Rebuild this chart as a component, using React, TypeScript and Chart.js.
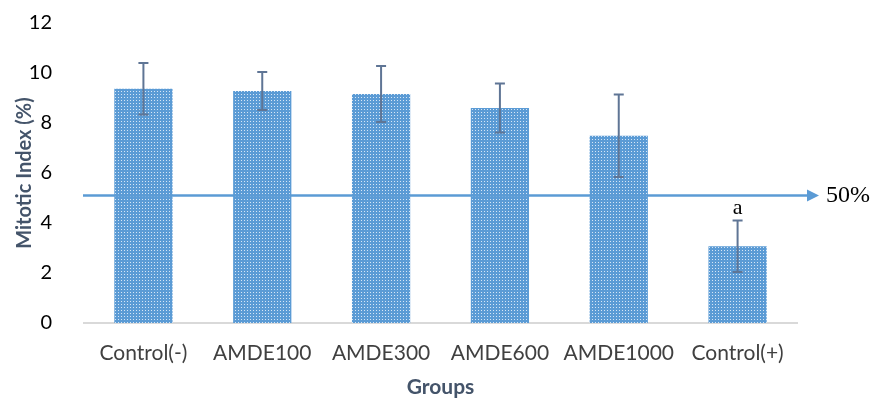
import React, { useEffect, useRef } from "react";
import { Chart, registerables } from "chart.js";

Chart.register(...registerables);

const categories = ["Control(-)", "AMDE100", "AMDE300", "AMDE600", "AMDE1000", "Control(+)"];
const meanValues = [9.37, 9.28, 9.16, 8.6, 7.49, 3.07];
const errorValues = [1.03, 0.76, 1.12, 0.98, 1.65, 1.03];
const significanceLabels = ["", "", "", "", "", "a"];
const thresholdValue = 5.1;
const thresholdLabel = "50%";
const yTicks = [0, 2, 4, 6, 8, 10, 12];

function makePattern(): CanvasPattern | string {
  const c = document.createElement("canvas");
  c.width = 3;
  c.height = 3;
  const g = c.getContext("2d");
  if (!g) return "#5b9bd5";
  g.fillStyle = "#5b9bd5";
  g.fillRect(0, 0, 3, 3);
  g.fillStyle = "#d6e6f6";
  g.fillRect(1, 1, 1, 1);
  const ctx = document.createElement("canvas").getContext("2d");
  const p = ctx ? ctx.createPattern(c, "repeat") : null;
  return p || "#5b9bd5";
}

const overlayPlugin = {
  id: "overlay",
  afterDatasetsDraw(chart: any) {
    const { ctx, chartArea, scales } = chart;
    const x = scales.x;
    const y = scales.y;
    ctx.save();
    ctx.strokeStyle = "#5f7595";
    ctx.lineWidth = 2;
    meanValues.forEach((v, i) => {
      const cx = x.getPixelForValue(i);
      const top = y.getPixelForValue(v + errorValues[i]);
      const bot = y.getPixelForValue(v - errorValues[i]);
      ctx.beginPath();
      ctx.moveTo(cx, top);
      ctx.lineTo(cx, bot);
      ctx.moveTo(cx - 5, top);
      ctx.lineTo(cx + 5, top);
      ctx.moveTo(cx - 5, bot);
      ctx.lineTo(cx + 5, bot);
      ctx.stroke();
      if (significanceLabels[i]) {
        ctx.fillStyle = "#000";
        ctx.font = "22px 'Liberation Serif'";
        ctx.textAlign = "center";
        ctx.textBaseline = "bottom";
        ctx.fillText(significanceLabels[i], cx, top - 1);
      }
    });
    const ly = y.getPixelForValue(thresholdValue);
    const x0 = chartArea.left - 1;
    const tip = chartArea.right + 22;
    ctx.strokeStyle = "#5b9bd5";
    ctx.fillStyle = "#5b9bd5";
    ctx.lineWidth = 2.5;
    ctx.beginPath();
    ctx.moveTo(x0, ly);
    ctx.lineTo(tip - 10, ly);
    ctx.stroke();
    ctx.beginPath();
    ctx.moveTo(tip, ly);
    ctx.lineTo(tip - 12, ly - 6);
    ctx.lineTo(tip - 12, ly + 6);
    ctx.closePath();
    ctx.fill();
    ctx.fillStyle = "#000";
    ctx.font = "24px 'Liberation Serif'";
    ctx.textAlign = "left";
    ctx.textBaseline = "middle";
    ctx.fillText(thresholdLabel, tip + 7, ly);
    ctx.restore();
  },
};

export default function App() {
  const ref = useRef<HTMLCanvasElement>(null);
  useEffect(() => {
    if (!ref.current) return;
    const chart = new Chart(ref.current, {
      type: "bar",
      data: {
        labels: categories,
        datasets: [
          {
            data: meanValues,
            backgroundColor: makePattern() as any,
            borderWidth: 0,
            categoryPercentage: 1,
            barPercentage: 0.49,
          },
        ],
      },
      options: {
        animation: false,
        responsive: false,
        layout: { padding: { top: 23, right: 76, left: 0, bottom: 0 } },
        plugins: { legend: { display: false }, tooltip: { enabled: false } },
        scales: {
          x: {
            grid: { display: false },
            border: { display: true, color: "#d9d9d9", width: 2 },
            ticks: {
              color: "#404040",
              font: { family: "Lato", size: 21 },
              padding: 10,
              maxRotation: 0,
              autoSkip: false,
            },
            title: {
              display: true,
              text: "Groups",
              color: "#44546a",
              font: { family: "Lato", size: 21, weight: "bold" },
              padding: { top: 8, bottom: 0 },
            },
            afterFit(axis: any) {
              axis.height = 77;
              axis.paddingLeft = 0;
              axis.paddingRight = 0;
            },
          },
          y: {
            min: 0,
            max: 12,
            afterBuildTicks(axis: any) {
              axis.ticks = yTicks.map((v) => ({ value: v }));
            },
            grid: { display: false },
            border: { display: false },
            ticks: {
              color: "#000",
              font: { family: "Lato", size: 20 },
              padding: 24,
            },
            title: {
              display: true,
              text: "Mitotic Index (%)",
              color: "#44546a",
              font: { family: "Lato", size: 20, weight: "bold" },
              padding: { top: 13, bottom: 0 },
            },
            afterFit(axis: any) {
              axis.width = 84;
              axis.paddingTop = 0;
              axis.paddingBottom = 0;
            },
          },
        },
      },
      plugins: [overlayPlugin],
    });
    return () => chart.destroy();
  }, []);
  return (
    <div style={{ position: "fixed", left: 0, top: 0, width: 873, height: 400, background: "#fff" }}>
      <canvas ref={ref} width={873} height={400} style={{ width: 873, height: 400 }} />
    </div>
  );
}
